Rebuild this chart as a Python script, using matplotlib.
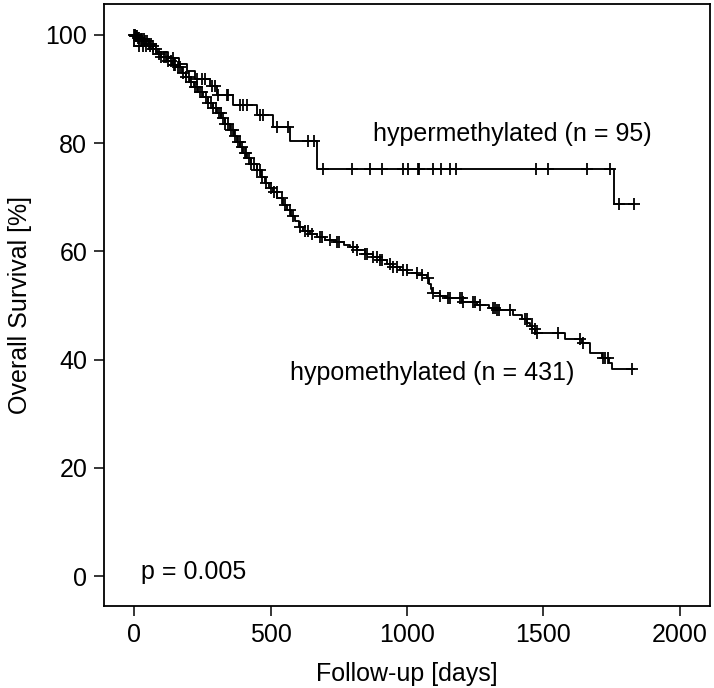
import numpy as np
import matplotlib
matplotlib.use("Agg")
import matplotlib.pyplot as plt

plt.rcParams['font.family'] = ['Liberation Sans', 'DejaVu Sans']

# ---- data ----
hyper_times = [0, 1, 80, 125, 165, 195, 225, 280, 305, 363, 450, 510, 571, 670, 1758, 1830]
hyper_surv  = [100, 97.9, 96.8, 95.7, 94.6, 93.4, 91.9, 90.6, 88.9, 87.1, 85.2, 83.0, 80.4, 75.2, 68.8, 68.8]
hyper_cens  = [0, 20, 33, 45, 57, 69, 143, 231, 249, 260, 286, 297, 308, 341, 346, 388, 400,
               414, 462, 473, 523, 564, 637, 659, 691, 797, 864, 909, 986, 1004, 1040, 1044,
               1096, 1126, 1157, 1181, 1472, 1517, 1660, 1744, 1775, 1830]

hypo_times = [0, 5, 15, 25, 40, 55, 70, 85, 100, 120, 140, 157, 175, 190, 205, 220, 235, 253,
              270, 290, 304, 320, 335, 352, 365, 378, 390, 400, 415, 430, 450, 465, 480, 495,
              510, 525, 546, 560, 575, 590, 605, 620, 645, 670, 700, 740, 770, 791, 815, 846,
              875, 901, 925, 949, 975, 1000, 1037, 1075, 1082, 1087, 1092, 1120, 1147, 1201,
              1255, 1300, 1330, 1390, 1420, 1440, 1450, 1458, 1470, 1580, 1640, 1670, 1715,
              1740, 1750, 1830]
hypo_surv  = [100, 99.8, 99.5, 99.3, 98.8, 98.3, 97.4, 96.5, 95.9, 95.2, 94.5, 94.0, 93.0, 92.2,
              91.3, 90.3, 89.5, 88.5, 87.4, 86.4, 85.6, 84.6, 83.5, 82.4, 81.3, 80.2, 79.2, 78.2,
              77.3, 76.2, 75.0, 73.8, 72.6, 71.8, 71.0, 69.8, 68.6, 67.6, 66.6, 65.6, 64.6, 63.8,
              63.2, 62.6, 62.1, 61.7, 61.2, 60.8, 60.2, 59.5, 59.0, 58.4, 57.7, 57.1, 56.5, 56.0,
              55.6, 55.1, 54.0, 53.1, 52.3, 51.8, 51.4, 50.6, 50.1, 49.6, 49.2, 48.2, 47.5, 46.8,
              46.2, 45.6, 44.9, 43.8, 43.1, 41.2, 40.3, 39.4, 38.3, 38.3]
hypo_cens  = [2, 5, 8, 12, 15, 20, 25, 30, 35, 40, 48, 55, 62, 70, 80, 90, 100, 110, 118, 125,
              135, 145, 150, 160, 170, 180, 190, 200, 210, 222, 230, 240, 250, 262, 270, 282,
              290, 300, 310, 318, 325, 335, 345, 355, 362, 370, 380, 388, 395, 405, 410, 420,
              430, 440, 452, 460, 470, 485, 500, 512, 523, 541, 553, 571, 583, 608, 626, 639,
              651, 681, 687, 718, 745, 752, 803, 816, 846, 852, 876, 889, 901, 907, 938, 950,
              962, 986, 999, 1036, 1054, 1078, 1094, 1121, 1152, 1158, 1194, 1200, 1206, 1243,
              1249, 1267, 1316, 1322, 1330, 1337, 1377, 1432, 1438, 1457, 1469, 1475, 1554,
              1634, 1646, 1719, 1725, 1737, 1823]

labels = ["hypermethylated (n = 95)", "hypomethylated (n = 431)"]
label_pos = [(875, 81.7), (571, 37.5)]
p_text = "p = 0.005"
p_pos = (26, 0.7)
xticks = [0, 500, 1000, 1500, 2000]
yticks = [0, 20, 40, 60, 80, 100]


def surv_at(times, surv, t):
    idx = np.searchsorted(np.asarray(times), np.asarray(t), side='right') - 1
    return np.asarray(surv)[idx]


fig = plt.figure(figsize=(7.14, 6.88), dpi=100)
ax = fig.add_axes([104 / 714, 1 - 606 / 688, 606 / 714, 602 / 688])

fs = 18
for times, surv, cens in [(hyper_times, hyper_surv, hyper_cens),
                          (hypo_times, hypo_surv, hypo_cens)]:
    ax.step(times, surv, where='post', color='black', lw=1.35)
    ax.plot(cens, surv_at(times, surv, cens), linestyle='none', marker='+',
            color='black', markersize=8, markeredgewidth=1.3)

for lab, (x, y) in zip(labels, label_pos):
    ax.text(x, y, lab, ha='left', va='center', fontsize=fs)
ax.text(p_pos[0], p_pos[1], p_text, ha='left', va='center', fontsize=fs)

ax.set_xlim(-110, 2110)
ax.set_ylim(-5.5, 105.7)
ax.set_xticks(xticks)
ax.set_yticks(yticks)
ax.tick_params(labelsize=fs, length=7, width=1.1, pad=5, direction='out')
ax.set_xlabel("Follow-up [days]", fontsize=fs, labelpad=11)
ax.set_ylabel("Overall Survival [%]", fontsize=fs, labelpad=10)
for s in ax.spines.values():
    s.set_linewidth(1.3)

fig.savefig("out.png", dpi=100)
